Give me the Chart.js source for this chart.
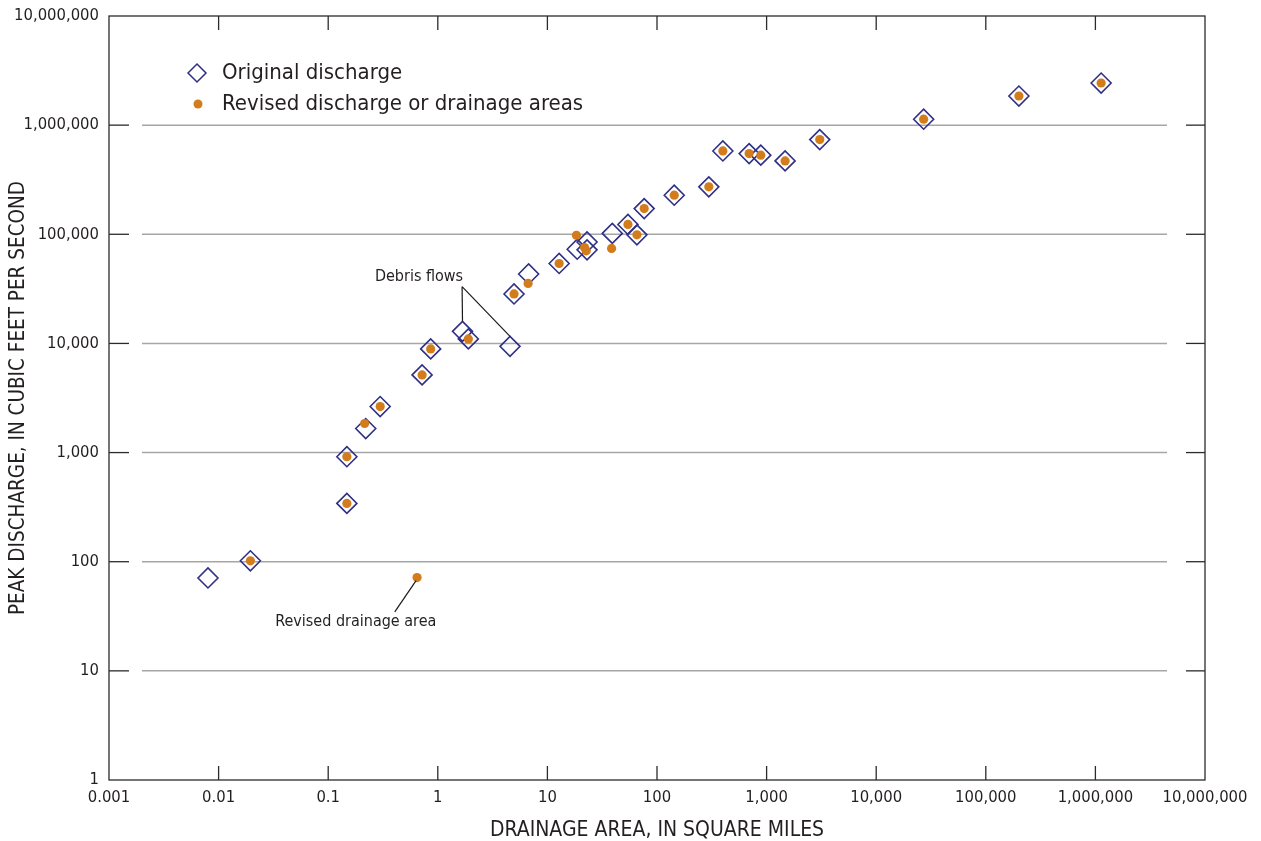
<!DOCTYPE html>
<html>
<head>
<meta charset="utf-8">
<script src="https://cdn.jsdelivr.net/npm/chart.js@4.4.1/dist/chart.umd.min.js"></script>
<style>
  html, body { margin: 0; padding: 0; background: #fff; }
  #wrap { width: 1261px; height: 841px; }
</style>
</head>
<body>
<div id="wrap"><canvas id="chart" width="1261" height="841"></canvas></div>
<script>
// original peak discharge (diamonds)
const origArea = [0.008, 0.0195, 0.148, 0.148, 0.22, 0.298, 0.719, 0.861, 1.68, 1.90, 4.56, 4.96, 6.74, 12.8,
    18.7, 23.0, 23.0, 39.1, 54.3, 65.6, 76.4, 143.6, 297, 399, 693, 885, 1475, 3054, 27100, 200400, 1128000];
const origQ = [71, 102, 342, 916, 1660, 2640, 5150, 8910, 12900, 11000, 9400, 28400, 43300, 54000,
    73000, 85000, 72000, 101800, 123000, 98900, 172000, 228000, 272000, 580000, 549000, 531000, 470000, 737000,
    1133000, 1849000, 2432000];

// revised discharge or drainage area (dots)
const revArea = [0.0195, 0.148, 0.148, 0.215, 0.298, 0.647, 0.719, 0.861, 1.90, 4.96, 6.67, 12.8, 18.4, 21.8,
    22.6, 38.5, 54.3, 65.6, 76.4, 143.6, 297, 399, 693, 885, 1475, 3054, 27100, 200400, 1128000];
const revQ = [102, 342, 916, 1846, 2640, 71.5, 5150, 8910, 11000, 28400, 35500, 54000, 98000, 75700,
    70600, 74200, 123000, 98900, 172000, 228000, 272000, 580000, 549000, 531000, 470000, 737000, 1133000,
    1849000, 2432000];

const xTicks = [0.001, 0.01, 0.1, 1, 10, 100, 1000, 10000, 100000, 1000000, 10000000];
const xTickLabels = ['0.001', '0.01', '0.1', '1', '10', '100', '1,000', '10,000', '100,000', '1,000,000', '10,000,000'];
const yTicks = [1, 10, 100, 1000, 10000, 100000, 1000000, 10000000];
const yTickLabels = ['1', '10', '100', '1,000', '10,000', '100,000', '1,000,000', '10,000,000'];

// debris flow points (indexes into origArea) and the point with the revised drainage area
const debrisIdx = [8, 10];
const debrisLabelAt = { x: 1.666, y: 33100 };
const revisedAreaIdx = 5;
const revisedLabelAt = { x: 0.405, y: 34.7 };

const FONT = '"DejaVu Sans Condensed", "Liberation Sans Narrow", "Arial Narrow", "DejaVu Sans", sans-serif';
const navy = '#2f2f86';
const orange = '#d27c1c';
const textColor = '#231f20';

function line(ctx, x1, y1, x2, y2) {
    ctx.beginPath();
    ctx.moveTo(x1, y1);
    ctx.lineTo(x2, y2);
    ctx.stroke();
}

function diamond(ctx, x, y, r) {
    ctx.beginPath();
    ctx.moveTo(x - r, y);
    ctx.lineTo(x, y - r);
    ctx.lineTo(x + r, y);
    ctx.lineTo(x, y + r);
    ctx.closePath();
    ctx.stroke();
}

const framePlugin = {
    id: 'frame',
    beforeDatasetsDraw(chart) {
        const { ctx, chartArea: a, scales: { x, y } } = chart;
        ctx.save();

        // horizontal grid lines, stopping short of the axes
        ctx.strokeStyle = '#a6a6a6';
        ctx.lineWidth = 1.5;
        yTicks.slice(1, -1).forEach(v => {
            const py = y.getPixelForValue(v);
            line(ctx, a.left + 33, py, a.right - 38, py);
        });

        // inward tick marks on all four sides
        ctx.strokeStyle = '#2b2b2b';
        ctx.lineWidth = 1.3;
        yTicks.slice(1, -1).forEach(v => {
            const py = y.getPixelForValue(v);
            line(ctx, a.left, py, a.left + 20, py);
            line(ctx, a.right - 19, py, a.right, py);
        });
        xTicks.slice(1, -1).forEach(v => {
            const px = x.getPixelForValue(v);
            line(ctx, px, a.top, px, a.top + 14);
            line(ctx, px, a.bottom - 14, px, a.bottom);
        });

        ctx.strokeRect(a.left, a.top, a.right - a.left, a.bottom - a.top);
        ctx.restore();
    },
    afterDatasetsDraw(chart) {
        const { ctx, chartArea: a, scales: { x, y } } = chart;
        ctx.save();
        ctx.strokeStyle = '#1a1a1a';
        ctx.lineWidth = 1.2;
        ctx.fillStyle = textColor;

        // "Debris flows" leaders to the top of each diamond
        const sx = x.getPixelForValue(debrisLabelAt.x);
        const sy = y.getPixelForValue(debrisLabelAt.y);
        debrisIdx.forEach(i => {
            line(ctx, sx, sy, x.getPixelForValue(origArea[i]), y.getPixelForValue(origQ[i]) - 10);
        });
        ctx.font = '16px ' + FONT;
        ctx.textAlign = 'right';
        ctx.textBaseline = 'alphabetic';
        ctx.fillText('Debris flows', sx + 1, sy - 6);

        // "Revised drainage area"
        const dx = x.getPixelForValue(revArea[revisedAreaIdx]);
        const dy = y.getPixelForValue(revQ[revisedAreaIdx]);
        const ex = x.getPixelForValue(revisedLabelAt.x);
        const ey = y.getPixelForValue(revisedLabelAt.y);
        line(ctx, dx - 1, dy + 3, ex, ey);
        ctx.textAlign = 'center';
        ctx.fillText('Revised drainage area', ex - 39, ey + 14);

        // legend
        const lx = a.left + 88;
        const ly = a.top + 57;
        ctx.strokeStyle = navy;
        ctx.lineWidth = 1.5;
        diamond(ctx, lx, ly, 9);
        ctx.fillStyle = orange;
        ctx.beginPath();
        ctx.arc(lx + 1, ly + 31, 4.5, 0, Math.PI * 2);
        ctx.fill();
        ctx.fillStyle = textColor;
        ctx.font = '22px ' + FONT;
        ctx.textAlign = 'left';
        ctx.textBaseline = 'middle';
        ctx.fillText(chart.data.datasets[1].label, lx + 25, ly);
        ctx.fillText(chart.data.datasets[0].label, lx + 25, ly + 31);
        ctx.restore();
    }
};

new Chart(document.getElementById('chart'), {
    type: 'scatter',
    data: {
        datasets: [
            {
                label: 'Revised discharge or drainage areas',
                data: revArea.map((v, i) => ({ x: v, y: revQ[i] })),
                pointStyle: 'circle',
                pointRadius: 4.6,
                pointHoverRadius: 4.6,
                backgroundColor: orange,
                borderWidth: 0,
                order: 0
            },
            {
                label: 'Original discharge',
                data: origArea.map((v, i) => ({ x: v, y: origQ[i] })),
                pointStyle: 'rectRot',
                pointRadius: 10,
                pointHoverRadius: 10,
                backgroundColor: 'rgba(0,0,0,0)',
                borderColor: navy,
                borderWidth: 1.6,
                order: 1
            }
        ]
    },
    options: {
        responsive: false,
        animation: false,
        devicePixelRatio: 1,
        layout: { padding: { top: 16, right: 56, left: 0, bottom: 0 } },
        plugins: {
            legend: { display: false },
            tooltip: { enabled: false }
        },
        scales: {
            x: {
                type: 'logarithmic',
                min: 0.001,
                max: 10000000,
                grid: { display: false, drawTicks: false },
                border: { display: false },
                afterBuildTicks: s => { s.ticks = xTicks.map(v => ({ value: v })); },
                afterFit: s => { s.height = 61; },
                ticks: {
                    autoSkip: false,
                    maxRotation: 0,
                    padding: 8,
                    color: textColor,
                    font: { family: FONT, size: 16.5 },
                    callback: (v, i) => xTickLabels[i]
                },
                title: {
                    display: true,
                    text: 'DRAINAGE AREA, IN SQUARE MILES',
                    color: textColor,
                    font: { family: FONT, size: 21, lineHeight: 1 },
                    padding: { top: 0, bottom: 0 }
                }
            },
            y: {
                type: 'logarithmic',
                min: 1,
                max: 10000000,
                grid: { display: false, drawTicks: false },
                border: { display: false },
                afterBuildTicks: s => { s.ticks = yTicks.map(v => ({ value: v })); },
                afterFit: s => {
                    s.width = 109;
                    s.paddingTop = 0;
                    s.paddingBottom = 0;
                },
                ticks: {
                    autoSkip: false,
                    padding: 10,
                    color: textColor,
                    font: { family: FONT, size: 16.5 },
                    callback: (v, i) => yTickLabels[i]
                },
                title: {
                    display: true,
                    text: 'PEAK DISCHARGE, IN CUBIC FEET PER SECOND',
                    color: textColor,
                    font: { family: FONT, size: 20.5, lineHeight: 1 },
                    padding: { top: 8, bottom: 0 }
                }
            }
        }
    },
    plugins: [framePlugin]
});
</script>
</body>
</html>
